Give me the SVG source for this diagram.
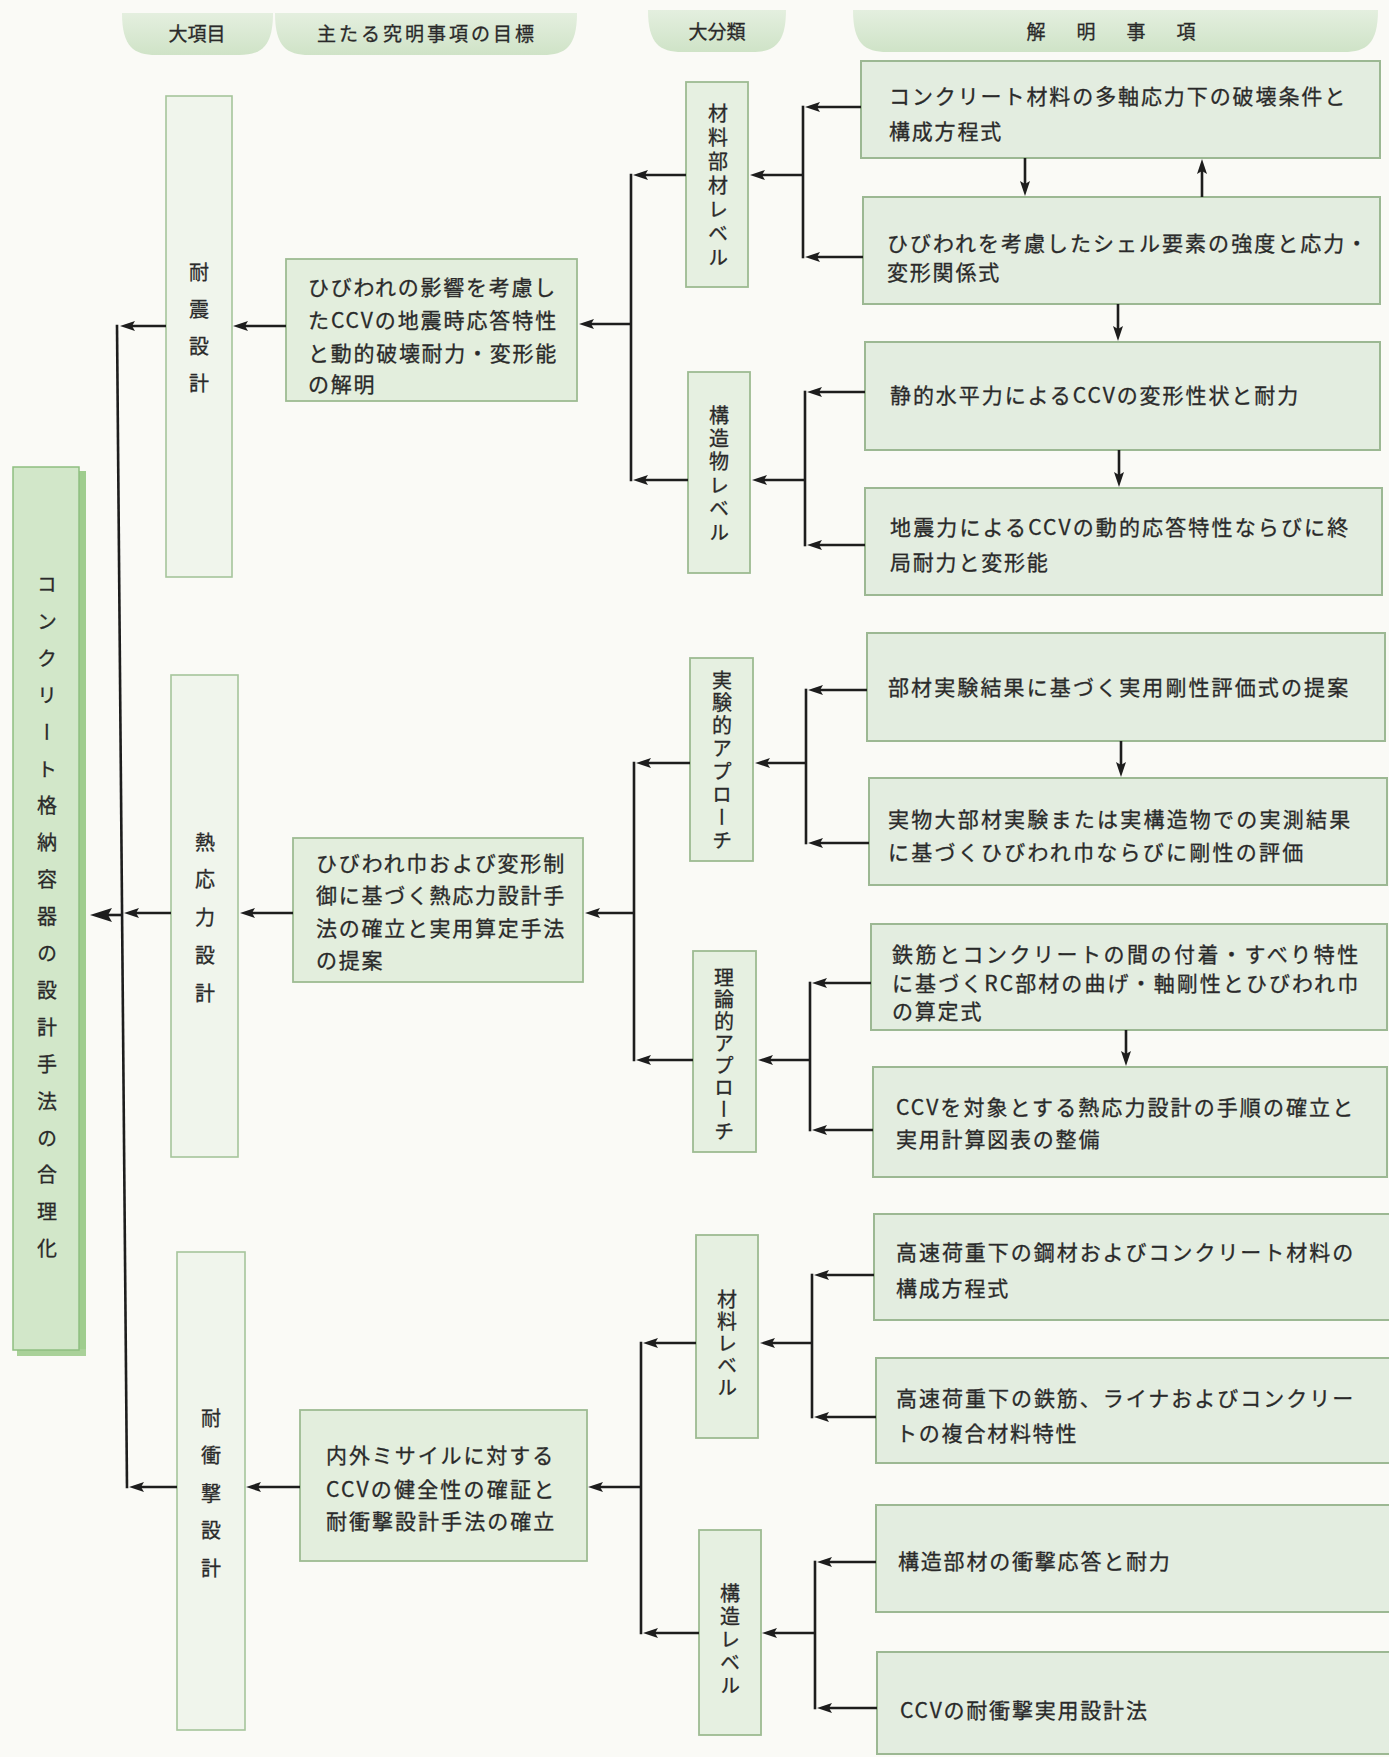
<svg xmlns="http://www.w3.org/2000/svg" width="1389" height="1757" viewBox="0 0 1389 1757">
  <defs>
    <linearGradient id="tabg" x1="0" y1="0" x2="0" y2="1">
      <stop offset="0" stop-color="#e4efdf"/>
      <stop offset="1" stop-color="#cfe3c7"/>
    </linearGradient>
    <marker id="ah" markerUnits="userSpaceOnUse" markerWidth="15" markerHeight="10" refX="9" refY="5" orient="auto">
      <path d="M0,0 L15,5 L0,10 L3,5 Z" fill="#1d1d1d"/>
    </marker>
    <marker id="ahL" markerUnits="userSpaceOnUse" markerWidth="22" markerHeight="14" refX="14" refY="7" orient="auto">
      <path d="M0,0 L22,7 L0,14 L4,7 Z" fill="#1d1d1d"/>
    </marker>
    <style>
      .t { font-family: "Noto Sans CJK JP", "Noto Sans CJK SC", sans-serif; font-size: 21px; fill: #2a2a2a; stroke: #2a2a2a; stroke-width: 0.3; letter-spacing: 1.8px; }
      .h { font-family: "Noto Sans CJK JP", "Noto Sans CJK SC", sans-serif; font-size: 19px; fill: #2a2a2a; stroke: #2a2a2a; stroke-width: 0.3; }
      .v { font-family: "Noto Sans CJK JP", "Noto Sans CJK SC", sans-serif; font-size: 20px; fill: #2a2a2a; stroke: #2a2a2a; stroke-width: 0.3; writing-mode: vertical-rl; }
      .tab { fill: url(#tabg); }
      .n1 { fill: #f0f5ec; stroke: #a6c59b; stroke-width: 1.6; }
      .n2 { fill: #e3eedd; stroke: #9dbb92; stroke-width: 1.8; }
      .n3 { fill: #e6f0e1; stroke: #9dbb92; stroke-width: 1.8; }
      .n4 { fill: #e3ede0; stroke: #9cb893; stroke-width: 2; }
      .ln { stroke: #1d1d1d; stroke-width: 2.6; fill: none; }
      .a { stroke: #1d1d1d; stroke-width: 2.6; fill: none; marker-end: url(#ah); }
    </style>
  </defs>

  <rect x="0" y="0" width="1389" height="1757" fill="#fafaf6"/>

  <!-- column headers -->
  <g id="headers">
    <path class="tab" d="M122,13 H273 C273,47 261,55 239,55 H156 C134,55 122,47 122,13 Z"/>
    <text class="h" x="197" y="41" text-anchor="middle">大項目</text>
    <path class="tab" d="M275,13 H577 C577,47 565,55 543,55 H309 C287,55 275,47 275,13 Z"/>
    <text class="h" x="427" y="41" text-anchor="middle" letter-spacing="3">主たる究明事項の目標</text>
    <path class="tab" d="M648,10 H786 C786,44 774,52 752,52 H682 C660,52 648,44 648,10 Z"/>
    <text class="h" x="717" y="39" text-anchor="middle">大分類</text>
    <path class="tab" d="M853,10 H1378 C1378,44 1366,52 1344,52 H887 C865,52 853,44 853,10 Z"/>
    <text class="h" x="1036" y="39" text-anchor="middle">解</text>
    <text class="h" x="1086" y="39" text-anchor="middle">明</text>
    <text class="h" x="1136" y="39" text-anchor="middle">事</text>
    <text class="h" x="1186" y="39" text-anchor="middle">項</text>
  </g>

  <!-- root -->
  <g id="root">
    <rect x="79" y="471" width="7" height="885" fill="#9fcd8e"/>
    <rect x="17" y="1349" width="69" height="7" fill="#a9d199"/>
    <rect x="13" y="467" width="66" height="883" fill="#d2e7c9" stroke="#8fbf80" stroke-width="1.5"/>
    <text class="v" x="47" y="574.5" font-size="21" letter-spacing="16.9">コンクリート格納容器の設計手法の合理化</text>
  </g>

  <!-- 大項目 -->
  <g id="seismic">
    <rect class="n1" x="166" y="96" width="66" height="481"/>
    <text class="v" x="199" y="262" letter-spacing="17.3">耐震設計</text>
  </g>
  <g id="thermal">
    <rect class="n1" x="171" y="675" width="67" height="482"/>
    <text class="v" x="205" y="832" letter-spacing="17.75">熱応力設計</text>
  </g>
  <g id="impact">
    <rect class="n1" x="177" y="1252" width="68" height="478"/>
    <text class="v" x="211" y="1408" letter-spacing="17.5">耐衝撃設計</text>
  </g>

  <!-- 主たる究明事項の目標 -->
  <g id="goal-seismic">
    <rect class="n2" x="286" y="259" width="291" height="142"/>
    <text class="t" x="308" y="295" textLength="249" lengthAdjust="spacing">ひびわれの影響を考慮し</text>
    <text class="t" x="308" y="328" textLength="250" lengthAdjust="spacing">たCCVの地震時応答特性</text>
    <text class="t" x="308" y="361" textLength="250" lengthAdjust="spacing">と動的破壊耐力・変形能</text>
    <text class="t" x="308" y="392">の解明</text>
  </g>
  <g id="goal-thermal">
    <rect class="n2" x="293" y="838" width="290" height="144"/>
    <text class="t" x="316" y="871" textLength="250" lengthAdjust="spacing">ひびわれ巾および変形制</text>
    <text class="t" x="316" y="903" textLength="250" lengthAdjust="spacing">御に基づく熱応力設計手</text>
    <text class="t" x="316" y="936" textLength="250" lengthAdjust="spacing">法の確立と実用算定手法</text>
    <text class="t" x="316" y="968">の提案</text>
  </g>
  <g id="goal-impact">
    <rect class="n2" x="300" y="1410" width="287" height="151"/>
    <text class="t" x="326" y="1463" textLength="229" lengthAdjust="spacing">内外ミサイルに対する</text>
    <text class="t" x="326" y="1497" textLength="230" lengthAdjust="spacing">CCVの健全性の確証と</text>
    <text class="t" x="326" y="1529" textLength="230" lengthAdjust="spacing">耐衝撃設計手法の確立</text>
  </g>

  <!-- 大分類 -->
  <g id="cls-material-member">
    <rect class="n3" x="686" y="82" width="62" height="205"/>
    <text class="v" x="718" y="103" letter-spacing="4">材料部材レベル</text>
  </g>
  <g id="cls-structure">
    <rect class="n3" x="688" y="372" width="62" height="201"/>
    <text class="v" x="719" y="405" letter-spacing="3.4">構造物レベル</text>
  </g>
  <g id="cls-experimental">
    <rect class="n3" x="690" y="658" width="63" height="203"/>
    <text class="v" x="722" y="670" letter-spacing="2.9">実験的アプローチ</text>
  </g>
  <g id="cls-theoretical">
    <rect class="n3" x="693" y="951" width="63" height="201"/>
    <text class="v" x="724" y="967" letter-spacing="2.1">理論的アプローチ</text>
  </g>
  <g id="cls-material">
    <rect class="n3" x="696" y="1235" width="62" height="203"/>
    <text class="v" x="727" y="1289" letter-spacing="2">材料レベル</text>
  </g>
  <g id="cls-structure-impact">
    <rect class="n3" x="699" y="1530" width="62" height="205"/>
    <text class="v" x="730" y="1583" letter-spacing="3">構造レベル</text>
  </g>

  <!-- 解明事項 -->
  <g id="item-1">
    <rect class="n4" x="861" y="61" width="519" height="97"/>
    <text class="t" x="889" y="104" textLength="458" lengthAdjust="spacing">コンクリート材料の多軸応力下の破壊条件と</text>
    <text class="t" x="889" y="139">構成方程式</text>
  </g>
  <g id="item-2">
    <rect class="n4" x="863" y="197" width="517" height="107"/>
    <text class="t" x="887" y="251" textLength="482" lengthAdjust="spacing">ひびわれを考慮したシェル要素の強度と応力・</text>
    <text class="t" x="887" y="280">変形関係式</text>
  </g>
  <g id="item-3">
    <rect class="n4" x="865" y="342" width="515" height="108"/>
    <text class="t" x="890" y="403" textLength="410" lengthAdjust="spacing">静的水平力によるCCVの変形性状と耐力</text>
  </g>
  <g id="item-4">
    <rect class="n4" x="865" y="488" width="517" height="107"/>
    <text class="t" x="890" y="535" textLength="460" lengthAdjust="spacing">地震力によるCCVの動的応答特性ならびに終</text>
    <text class="t" x="890" y="570">局耐力と変形能</text>
  </g>
  <g id="item-5">
    <rect class="n4" x="867" y="633" width="518" height="108"/>
    <text class="t" x="888" y="695" textLength="462" lengthAdjust="spacing">部材実験結果に基づく実用剛性評価式の提案</text>
  </g>
  <g id="item-6">
    <rect class="n4" x="869" y="778" width="518" height="107"/>
    <text class="t" x="888" y="827" textLength="464" lengthAdjust="spacing">実物大部材実験または実構造物での実測結果</text>
    <text class="t" x="888" y="860" textLength="417" lengthAdjust="spacing">に基づくひびわれ巾ならびに剛性の評価</text>
  </g>
  <g id="item-7">
    <rect class="n4" x="871" y="924" width="516" height="106"/>
    <text class="t" x="892" y="962" textLength="468" lengthAdjust="spacing">鉄筋とコンクリートの間の付着・すべり特性</text>
    <text class="t" x="892" y="991" textLength="468" lengthAdjust="spacing">に基づくRC部材の曲げ・軸剛性とひびわれ巾</text>
    <text class="t" x="892" y="1019">の算定式</text>
  </g>
  <g id="item-8">
    <rect class="n4" x="873" y="1067" width="514" height="110"/>
    <text class="t" x="896" y="1115" textLength="459" lengthAdjust="spacing">CCVを対象とする熱応力設計の手順の確立と</text>
    <text class="t" x="896" y="1147">実用計算図表の整備</text>
  </g>
  <g id="item-9">
    <rect class="n4" x="874" y="1214" width="525" height="106"/>
    <text class="t" x="896" y="1260" textLength="459" lengthAdjust="spacing">高速荷重下の鋼材およびコンクリート材料の</text>
    <text class="t" x="896" y="1296">構成方程式</text>
  </g>
  <g id="item-10">
    <rect class="n4" x="876" y="1358" width="523" height="105"/>
    <text class="t" x="896" y="1406" textLength="459" lengthAdjust="spacing">高速荷重下の鉄筋、ライナおよびコンクリー</text>
    <text class="t" x="896" y="1441">トの複合材料特性</text>
  </g>
  <g id="item-11">
    <rect class="n4" x="876" y="1505" width="523" height="107"/>
    <text class="t" x="898" y="1569">構造部材の衝撃応答と耐力</text>
  </g>
  <g id="item-12">
    <rect class="n4" x="877" y="1652" width="522" height="102"/>
    <text class="t" x="900" y="1718">CCVの耐衝撃実用設計法</text>
  </g>

  <!-- connectors -->
  <g id="connectors">
    <!-- trunk and branch bars -->
    <line class="ln" x1="117" y1="324.7" x2="127" y2="1488.3"/>
    <line class="ln" x1="631" y1="173.7" x2="631" y2="481.3"/>
    <line class="ln" x1="634" y1="761.7" x2="634" y2="1061.3"/>
    <line class="ln" x1="641" y1="1341.7" x2="641" y2="1634.3"/>
    <line class="ln" x1="803" y1="105.7" x2="803" y2="258.3"/>
    <line class="ln" x1="805" y1="390.7" x2="805" y2="546.3"/>
    <line class="ln" x1="806" y1="688.7" x2="806" y2="844.3"/>
    <line class="ln" x1="810" y1="981.7" x2="810" y2="1131.3"/>
    <line class="ln" x1="812" y1="1273.7" x2="812" y2="1418.3"/>
    <line class="ln" x1="815" y1="1560.7" x2="815" y2="1709.3"/>

    <!-- seismic design -->
    <line class="a" x1="166" y1="326" x2="126" y2="326"/>
    <line class="a" x1="286" y1="326" x2="239" y2="326"/>
    <line class="a" x1="631" y1="324" x2="585" y2="324"/>
    <line class="a" x1="686" y1="175" x2="639" y2="175"/>
    <line class="a" x1="688" y1="480" x2="639" y2="480"/>
    <line class="a" x1="861" y1="107" x2="811" y2="107"/>
    <line class="a" x1="863" y1="257" x2="811" y2="257"/>
    <line class="a" x1="803" y1="175" x2="756" y2="175"/>
    <line class="a" x1="865" y1="392" x2="813" y2="392"/>
    <line class="a" x1="865" y1="545" x2="813" y2="545"/>
    <line class="a" x1="805" y1="480" x2="758" y2="480"/>
    <line class="a" x1="1025" y1="158" x2="1025" y2="190"/>
    <line class="a" x1="1202" y1="197" x2="1202" y2="165"/>
    <line class="a" x1="1118" y1="304" x2="1118" y2="335"/>
    <line class="a" x1="1119" y1="450" x2="1119" y2="481"/>

    <!-- thermal stress design -->
    <line class="a" x1="867" y1="690" x2="814" y2="690"/>
    <line class="a" x1="869" y1="843" x2="814" y2="843"/>
    <line class="a" x1="806" y1="763" x2="761" y2="763"/>
    <line class="a" x1="871" y1="983" x2="818" y2="983"/>
    <line class="a" x1="873" y1="1130" x2="818" y2="1130"/>
    <line class="a" x1="810" y1="1060" x2="764" y2="1060"/>
    <line class="a" x1="690" y1="763" x2="642" y2="763"/>
    <line class="a" x1="693" y1="1060" x2="642" y2="1060"/>
    <line class="a" x1="634" y1="913" x2="591" y2="913"/>
    <line class="a" x1="293" y1="913" x2="246" y2="913"/>
    <line class="a" x1="171" y1="913" x2="130" y2="913"/>
    <line class="a" x1="1121" y1="741" x2="1121" y2="771"/>
    <line class="a" x1="1126" y1="1030" x2="1126" y2="1060"/>

    <!-- trunk into root -->
    <line class="ln" x1="122" y1="915" x2="98" y2="915" style="marker-end: url(#ahL)"/>

    <!-- impact design -->
    <line class="a" x1="874" y1="1275" x2="820" y2="1275"/>
    <line class="a" x1="876" y1="1417" x2="820" y2="1417"/>
    <line class="a" x1="812" y1="1343" x2="766" y2="1343"/>
    <line class="a" x1="876" y1="1562" x2="823" y2="1562"/>
    <line class="a" x1="877" y1="1708" x2="823" y2="1708"/>
    <line class="a" x1="815" y1="1633" x2="768" y2="1633"/>
    <line class="a" x1="696" y1="1343" x2="649" y2="1343"/>
    <line class="a" x1="699" y1="1633" x2="649" y2="1633"/>
    <line class="a" x1="641" y1="1487" x2="594" y2="1487"/>
    <line class="a" x1="300" y1="1487" x2="252" y2="1487"/>
    <line class="a" x1="177" y1="1487" x2="135" y2="1487"/>
  </g>
</svg>
